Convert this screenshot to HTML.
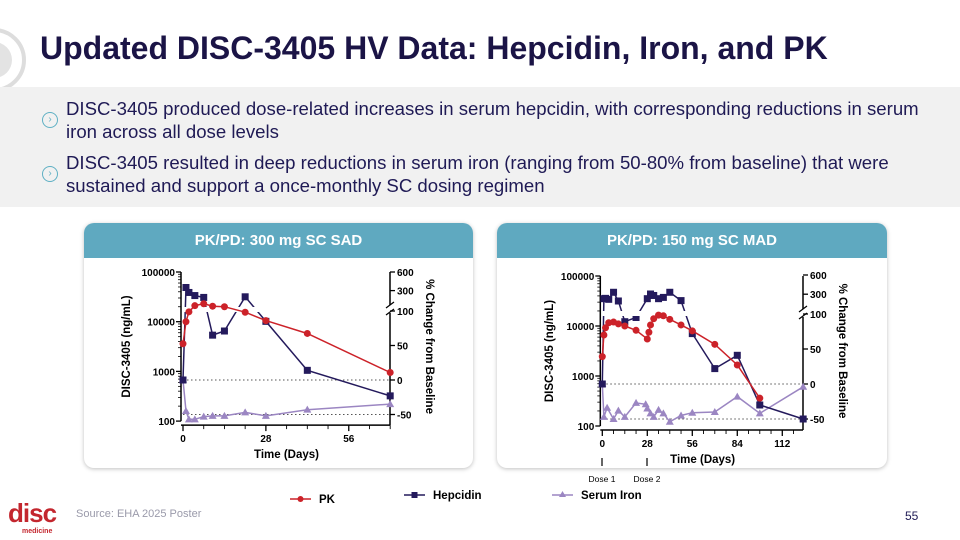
<!DOCTYPE html>
<html><head><meta charset="utf-8"><style>
body{margin:0;width:960px;height:540px;overflow:hidden;background:#fff;font-family:"Liberation Sans",sans-serif;position:relative}
.abs{position:absolute}
#title{left:40px;top:30px;font-size:32px;font-weight:bold;color:#1b1446;white-space:nowrap}
#band{left:0;top:87px;width:960px;height:120px;background:#f1f1f1}
.bul{left:66px;font-size:18.6px;color:#1f1a55;line-height:23px;width:880px}
.ico{left:42px;width:14px;height:14px;border:1.3px solid #5fb0c4;border-radius:50%;color:#5fb0c4;font-size:10px;line-height:14px;text-align:center}
.panel{top:223px;height:245px;background:#fff;border-radius:10px;box-shadow:0 1px 4px rgba(0,0,0,.25)}
.ph{position:absolute;left:0;top:0;right:0;height:35px;background:#5fa9c0;border-radius:10px 10px 0 0;color:#fff;font-weight:bold;font-size:15px;text-align:center;line-height:35px}
svg text{font-family:"Liberation Sans",sans-serif}
</style></head><body>
<svg class="abs" style="left:0;top:20px" width="30" height="80"><circle cx="-6" cy="40" r="30" fill="none" stroke="#ddd" stroke-width="4"/><circle cx="-6" cy="40" r="18" fill="#e3e3e3"/></svg>
<div id="title" class="abs">Updated DISC-3405 HV Data: Hepcidin, Iron, and PK</div>
<div id="band" class="abs"></div>
<div class="abs ico" style="top:112px">›</div>
<div class="abs bul" style="top:97px">DISC-3405 produced dose-related increases in serum hepcidin, with corresponding reductions in serum iron across all dose levels</div>
<div class="abs ico" style="top:166px">›</div>
<div class="abs bul" style="top:151px">DISC-3405 resulted in deep reductions in serum iron (ranging from 50-80% from baseline) that were sustained and support a once-monthly SC dosing regimen</div>
<div class="abs panel" style="left:84px;width:389px"><div class="ph">PK/PD: 300 mg SC SAD</div></div>
<div class="abs panel" style="left:497px;width:390px"><div class="ph">PK/PD: 150 mg SC MAD</div></div>
<svg id="chart" class="abs" style="left:0;top:0" width="960" height="540"></svg>
<div class="abs" style="left:8px;top:498px;color:#c3262e;font-weight:bold;font-size:26px;letter-spacing:-1px">disc<span style="font-size:7px;position:absolute;left:14px;top:30px;letter-spacing:0">medicine</span></div>
<div class="abs" style="left:76px;top:508px;font-size:11px;color:#9a9aaa">Source: EHA 2025 Poster</div>
<div class="abs" style="left:905px;top:509px;font-size:12px;color:#1f1a55">55</div>
<script>
// SAD chart data
const sadPkDays=[0,1,2,4,7,10,14,21,28,42,70];
const sadPkVals=[3600,10000,15800,21000,23000,20500,20000,15500,10500,5800,950];
const sadHepDays=[0,1,2,4,7,10,14,21,28,42,70];
const sadHepVals=[0,350,270,220,190,65,71,200,85,14,-23];
const sadIronDays=[0,1,2,4,7,10,14,21,28,42,70];
const sadIronVals=[0,-45,-57,-57,-53,-52,-52,-47,-52,-43,-35];
const sadXTicks=[0,28,56];
// MAD chart data
const madPkDays=[0,1,2,4,7,10,14,21,28,29,30,32,35,38,42,49,56,70,84,98];
const madPkVals=[2440,6600,9200,11600,12000,11000,10000,8200,5500,7500,10500,14000,16500,16000,13600,10500,8000,4300,1660,360];
const madHepDays=[0,1,2,4,7,10,14,21,28,30,32,35,38,42,49,56,70,84,98,125];
const madHepVals=[0,230,235,220,330,194,89,95,230,303,280,230,250,330,200,72,22,41,-30,-50];
const madIronDays=[0,1,3,7,10,14,21,27,28,30,32,35,38,42,49,56,70,84,98,125];
const madIronVals=[0,-47,-34,-50,-38,-47,-27,-29,-35,-42,-47,-37,-42,-54,-45,-41,-40,-18,-42,-4];
const madXTicks=[0,28,56,84,112];
const leftTicks=[100,1000,10000,100000];
const rightTicks=[600,300,100,50,0,-50];

const NS='http://www.w3.org/2000/svg';
const svg=document.getElementById('chart');
function mk(tag,at,parent){const e=document.createElementNS(NS,tag);for(const k in at)e.setAttribute(k,at[k]);(parent||svg).appendChild(e);return e;}
const PK='#cc2229',HEP='#241a5c',IRON='#9b86c2';

function chart(c,id){
  const xs=d=>c.x0+d*c.xk;
  const yl=v=>c.yTop+(5-Math.log10(v))*c.dec;
  const yr=v=>v<=100?c.y0-v*c.rk:c.uBase-(v-100)*c.uk;
  const g=mk('g',{});
  
  
  const yBot=c.yTop+3*c.dec;
  const cu=mk('clipPath',{id:id+'cu'},g);mk('rect',{x:0,y:0,width:960,height:c.uBase+4},cu);
  const cl=mk('clipPath',{id:id+'cl'},g);mk('rect',{x:0,y:c.uBase+9,width:960,height:300},cl);
  [0,-50].forEach(v=>{const l=mk('line',{x1:c.x0,x2:c.xR,y1:yr(v),y2:yr(v),stroke:'#555','stroke-dasharray':'1.5,2.5','stroke-width':1},g);
    });
  const la=mk('line',{x1:c.x0-2,x2:c.x0-2,y1:c.yTop,y2:yBot,stroke:'#000','stroke-width':1.5},g);
  
  leftTicks.forEach((v,i)=>{const y=yl(v);mk('line',{x1:c.x0-7,x2:c.x0-2,y1:y,y2:y,stroke:'#000','stroke-width':1.3},g);
    if(i<3)for(let m=2;m<10;m++){const yy=yl(v*m);mk('line',{x1:c.x0-5,x2:c.x0-2,y1:yy,y2:yy,stroke:'#000','stroke-width':0.8},g);}
    const t=mk('text',{x:c.x0-8,y:y+4,'text-anchor':'end','font-size':10,'font-weight':'bold'},g);t.textContent=v;
    });
  const ba=mk('line',{x1:c.x0-2,x2:c.xR,y1:yBot+4,y2:yBot+4,stroke:'#000','stroke-width':1.5},g);
  
  for(let d=0;xs(d)<=c.xR+0.5;d+=7){const big=d%28==0;mk('line',{x1:xs(d),x2:xs(d),y1:yBot+4,y2:yBot+(big?10:8),stroke:'#000','stroke-width':big?1.3:0.9},g);}
  c.xt.forEach(d=>{const t=mk('text',{x:xs(d),y:yBot+21,'text-anchor':'middle','font-size':10,'font-weight':'bold'},g);t.textContent=d;
    });
  let t=mk('text',{x:(c.x0+c.xR)/2,y:yBot+37,'text-anchor':'middle','font-size':11.5,'font-weight':'bold'},g);t.textContent='Time (Days)';
  
  t=mk('text',{transform:`translate(${c.lx},${(c.yTop+yBot)/2}) rotate(-90)`,'text-anchor':'middle','font-size':11.5,'font-weight':'bold'},g);t.textContent='DISC-3405 (ng/mL)';
  
  t=mk('text',{transform:`translate(${c.xR+36},${(c.yTop+yBot)/2}) rotate(90)`,'text-anchor':'middle','font-size':11.5,'font-weight':'bold'},g);t.textContent='% Change from Baseline';
  
  mk('line',{x1:c.xR,x2:c.xR,y1:c.yTop,y2:c.uBase+2,stroke:'#000','stroke-width':1.5},g);
  const ra=mk('line',{x1:c.xR,x2:c.xR,y1:c.uBase+10,y2:yBot+4,stroke:'#000','stroke-width':1.5},g);
  
  [0,7].forEach(o=>mk('line',{x1:c.xR-4,x2:c.xR+4,y1:c.uBase+5+o,y2:c.uBase-1+o,stroke:'#000','stroke-width':1.2},g));
  rightTicks.forEach(v=>{const y=yr(v);mk('line',{x1:c.xR,x2:c.xR+5,y1:y,y2:y,stroke:'#000','stroke-width':1.3},g);
    const tt=mk('text',{x:c.xR+7,y:y+4,'font-size':10,'font-weight':'bold'},g);tt.textContent=v;
    });
  function series(days,vals,scale,color,shape,name,clip){
    const pts=days.map((d,i)=>[xs(d),scale(vals[i])]);
    const p='M'+pts.map(q=>q[0].toFixed(1)+','+q[1].toFixed(1)).join('L');
    const clips=clip?[id+'cu',id+'cl']:[null];
    clips.forEach(cp=>{const sg=mk('g',cp?{'clip-path':`url(#${cp})`}:{},g);
      
      mk('path',{d:p,fill:'none',stroke:color,'stroke-width':1.5},sg);
      pts.forEach(q=>{let m;
        if(shape=='c')m=mk('circle',{cx:q[0],cy:q[1],r:3.5,fill:color},sg);
        else if(shape=='s')m=mk('rect',{x:q[0]-3.5,y:q[1]-3.5,width:7,height:7,fill:color},sg);
        else m=mk('path',{d:`M${q[0]},${q[1]-4}L${q[0]+4},${q[1]+3}L${q[0]-4},${q[1]+3}Z`,fill:color},sg);
        });});
  }
  series(c.iD,c.iV,yr,IRON,'t','serum-iron',false);
  series(c.hD,c.hV,yr,HEP,'s','hepcidin',true);
  series(c.pD,c.pV,yl,PK,'c','pk',false);
}
chart({x0:183,xk:2.96,xR:390,yTop:272,dec:49.7,y0:380,rk:0.69,uBase:303,uk:0.062,xt:sadXTicks,lx:130,
  pD:sadPkDays,pV:sadPkVals,hD:sadHepDays,hV:sadHepVals,iD:sadIronDays,iV:sadIronVals},'sad');
chart({x0:602.3,xk:1.607,xR:803,yTop:276,dec:50,y0:384,rk:0.7,uBase:307,uk:0.064,xt:madXTicks,lx:553,
  pD:madPkDays,pV:madPkVals,hD:madHepDays,hV:madHepVals,iD:madIronDays,iV:madIronVals},'mad');
[[602,'Dose 1'],[647,'Dose 2']].forEach(([x,l])=>{const ln=mk('line',{x1:x,x2:x,y1:458,y2:466,stroke:'#000','stroke-width':1.2});
  
  const t=mk('text',{x:x,y:482,'text-anchor':'middle','font-size':8.5});t.textContent=l;
  });
[[290,PK,'c','PK',499],[404,HEP,'s','Hepcidin',495],[552,IRON,'t','Serum Iron',495]].forEach(([x,col,sh,l,y])=>{
  const g=mk('g',{});
  mk('line',{x1:x,x2:x+21,y1:y,y2:y,stroke:col,'stroke-width':1.5},g);
  if(sh=='c')mk('circle',{cx:x+10.5,cy:y,r:3,fill:col},g);
  else if(sh=='s')mk('rect',{x:x+7.5,y:y-3,width:6,height:6,fill:col},g);
  else mk('path',{d:`M${x+10.5},${y-4}L${x+14},${y+2}L${x+7},${y+2}Z`,fill:col},g);
  const t=mk('text',{x:x+29,y:y+4,'font-size':11.5,'font-weight':'bold'},g);t.textContent=l;});
</script>
</body></html>
